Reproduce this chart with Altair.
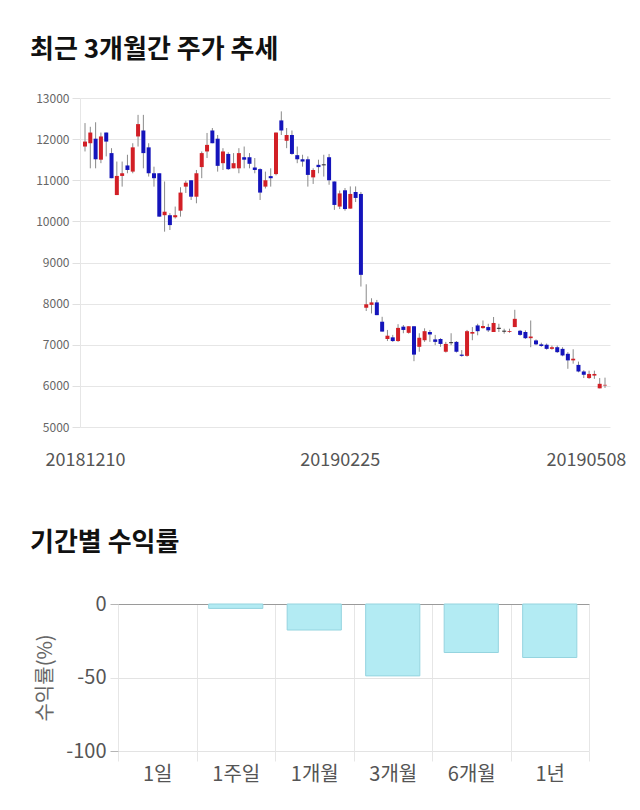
import altair as alt
import pandas as pd

FONT = "Noto Sans CJK KR"

# ---- candlestick data (one entry per trading day, 20181210 .. 20190508) ----
opens = [11820, 11900, 12010, 11500, 12160, 11660, 10640, 11105, 11360, 11210,
         12065, 12210, 11800, 11170, 11170, 10150, 10150, 10100, 10260, 10845,
         11000, 10600, 11320, 11700, 12210, 12010, 11415, 11640, 11290, 11290,
         11560, 11560, 11310, 11270, 10845, 11100, 11150, 12455, 11960, 12100,
         11610, 11510, 11510, 11070, 11375, 11375, 11560, 10970, 10360, 10756,
         10310, 10715, 10667, 7900, 7970, 8030, 7560, 7140, 7180, 7090,
         7440, 7290, 7450, 6950, 7110, 7310, 7130, 7140, 6830, 7050,
         7070, 6760, 6730, 7270, 7470, 7405, 7430, 7310, 7400, 7330,
         7310, 7430, 7340, 7310, 7160, 7105, 7010, 7000, 6900, 6940,
         6900, 6780, 6620, 6510, 6350, 6190, 6250, 5940, 6010]
highs = [12390, 12300, 12410, 12160, 12160, 11780, 11455, 11455, 11620, 11900,
         12590, 12590, 11900, 11330, 11170, 10970, 10200, 10360, 10830, 10990,
         11000, 11250, 11700, 12150, 12270, 12100, 11780, 11680, 11660, 11780,
         11820, 11660, 11540, 11290, 11210, 11290, 12160, 12675, 12270, 12210,
         11820, 11620, 11580, 11290, 11500, 11620, 11640, 10970, 10750, 10810,
         10850, 10850, 10715, 8470, 8130, 8090, 7680, 7360, 7240, 7500,
         7480, 7450, 7450, 7280, 7400, 7360, 7240, 7160, 7070, 7280,
         7090, 6870, 7360, 7430, 7510, 7590, 7510, 7675, 7510, 7390,
         7390, 7850, 7360, 7350, 7590, 7130, 7050, 7030, 6980, 6980,
         6940, 6820, 6890, 6590, 6380, 6370, 6370, 6190, 6200]
lows = [11700, 11290, 11290, 11415, 11580, 11050, 10640, 10845, 11170, 11170,
        11820, 11290, 11090, 10845, 10115, 9750, 9790, 10070, 10115, 10690,
        10520, 10440, 11050, 11540, 11900, 11210, 11250, 11250, 11290, 11170,
        11290, 11290, 11170, 10520, 10800, 10845, 11120, 12100, 11780, 11620,
        11415, 11330, 10845, 10910, 11170, 11090, 10890, 10280, 10300, 10260,
        10310, 10470, 8415, 7820, 7760, 7720, 7320, 7090, 7070, 7070,
        7280, 7270, 6600, 6830, 7070, 7070, 6990, 6950, 6810, 6990,
        6810, 6710, 6710, 7110, 7230, 7390, 7310, 7310, 7310, 7270,
        7290, 7430, 7220, 7140, 6940, 6990, 6950, 6880, 6880, 6800,
        6720, 6415, 6540, 6330, 6190, 6170, 6170, 5940, 5950]
closes = [11940, 12160, 11510, 12065, 11940, 11050, 11105, 11170, 11250, 11800,
          12365, 11660, 11170, 11050, 10115, 10235, 9910, 10150, 10700, 10940,
          10600, 11170, 11660, 11860, 11900, 11350, 11700, 11270, 11415, 11660,
          11500, 11400, 11250, 10700, 11000, 11050, 12160, 12210, 12100, 11640,
          11510, 11455, 11130, 11250, 11320, 11375, 11000, 10400, 10680, 10300,
          10667, 10570, 8700, 7984, 8030, 7720, 7320, 7220, 7090, 7410,
          7360, 7450, 6760, 7170, 7330, 7250, 7070, 7020, 7020, 7050,
          6830, 6730, 7330, 7310, 7330, 7455, 7350, 7530, 7400, 7330,
          7330, 7630, 7240, 7160, 7200, 7010, 6970, 6900, 6940, 6820,
          6740, 6620, 6660, 6350, 6270, 6290, 6290, 6050, 6025]

price_ticks = [5000, 6000, 7000, 8000, 9000, 10000, 11000, 12000, 13000]
date_tick_index = [0, 48, 94.4]
date_tick_labels = ["20181210", "20190225", "20190508"]

# ---- period returns ----
periods = ["1일", "1주일", "1개월", "3개월", "6개월", "1년"]
returns = [0, -3.0, -17.7, -48.9, -33.0, -36.4]
return_ticks = [0, -50, -100]

# ---------------- candlestick chart ----------------
df = pd.DataFrame({"i": list(range(len(opens))), "open": opens, "high": highs,
                   "low": lows, "close": closes})
df["dir"] = ["up" if c > o else ("down" if c < o else "flat")
             for o, c in zip(df["open"], df["close"])]
pad = [12 if o == c else 0 for o, c in zip(df["open"], df["close"])]
df["body_lo"] = [min(o, c) - p for o, c, p in zip(df["open"], df["close"], pad)]
df["body_hi"] = [max(o, c) + p for o, c, p in zip(df["open"], df["close"], pad)]

label_expr = " : ".join(
    [f"datum.value < {v + 0.5} ? '{t}'" for v, t in zip(date_tick_index[:-1], date_tick_labels[:-1])]
) + f" : '{date_tick_labels[-1]}'"

x_top = alt.X("i:Q",
              scale=alt.Scale(domain=[0, len(opens) - 1], nice=False, zero=False),
              axis=alt.Axis(values=date_tick_index, labelExpr=label_expr, grid=False,
                            ticks=False, tickSize=0, domain=False, labelFontSize=18,
                            labelColor="#555555", labelPadding=24, labelFont=FONT),
              title=None)
y_scale = alt.Scale(domain=[price_ticks[0], price_ticks[-1]], nice=False, zero=False)
y_axis = alt.Axis(values=price_ticks, format="d", labelFontSize=12, labelColor="#666666",
                  gridColor="#e6e6e6", tickColor="#e0e0e0", tickSize=8, domain=True,
                  domainColor="#e6e6e6", labelPadding=3, labelFont=FONT)

wicks = alt.Chart(df).mark_rule(color="#8a8a8a", strokeWidth=1).encode(
    x=x_top,
    y=alt.Y("low:Q", scale=y_scale, axis=y_axis, title=None),
    y2="high:Q",
)
bodies = alt.Chart(df).mark_bar(size=4).encode(
    x=x_top,
    y=alt.Y("body_lo:Q", scale=y_scale, axis=y_axis, title=None),
    y2="body_hi:Q",
    color=alt.Color("dir:N",
                    scale=alt.Scale(domain=["up", "down", "flat"],
                                    range=["#d21f26", "#1414bb", "#222222"]),
                    legend=None),
)
top = alt.layer(wicks, bodies).properties(
    width=530, height=329,
    title=alt.TitleParams("최근 3개월간 주가 추세", anchor="start", frame="group", dx=-50,
                          font=FONT, fontSize=26, fontWeight="bold", color="#111111",
                          offset=29),
)

# ---------------- return bar chart ----------------
rdf = pd.DataFrame({"period": periods, "ret": returns})
grid_col = {"condition": {"test": "datum.value === 0", "value": "#9a9a9a"},
            "value": "#e3e3e3"}
tick_col = {"condition": {"test": "datum.value === -50", "value": "#e3e3e3"},
            "value": "#b5b5b5"}
bars = alt.Chart(rdf).mark_bar(color="#b3ebf3", stroke="#95d4df", strokeWidth=1,
                               width=alt.RelativeBandSize(0.69)).encode(
    x=alt.X("period:N", sort=periods,
            scale=alt.Scale(paddingInner=0, paddingOuter=0, range=[38, 509]),
            axis=alt.Axis(tickBand="extent", tickSize=10, tickColor="#e6e6e6",
                          gridColor="#e6e6e6", grid=True, domain=False, labelAngle=0,
                          labelFontSize=20, labelColor="#555555", labelPadding=3,
                          labelFont=FONT),
            title=None),
    y=alt.Y("ret:Q", scale=alt.Scale(domain=[return_ticks[-1], return_ticks[0]], nice=False),
            axis=alt.Axis(values=return_ticks, labelExpr="'' + datum.value",
                          labelFontSize=20, labelColor="#555555",
                          gridColor=grid_col, tickColor=tick_col, tickSize=8,
                          domain=False, labelPadding=4, offset=-38,
                          title="수익률(%)", titleFontSize=20, titleColor="#666666",
                          titleFontWeight="normal", titlePadding=10, labelFont=FONT,
                          titleFont=FONT),
            ),
    strokeOpacity=alt.condition("datum.ret == 0", alt.value(0), alt.value(1)),
)
bottom = bars.properties(
    width=509, height=147,
    title=alt.TitleParams("기간별 수익률", anchor="start", frame="group", dx=-50,
                          font=FONT, fontSize=26, fontWeight="bold", color="#111111",
                          offset=38),
)

chart = alt.vconcat(top, bottom, spacing=61).properties(
    background="white",
    padding={"left": 30, "top": 37, "right": 0, "bottom": 20},
).configure_view(stroke=None)

chart.save("out.html", embed_options={"renderer": "svg", "actions": False})
